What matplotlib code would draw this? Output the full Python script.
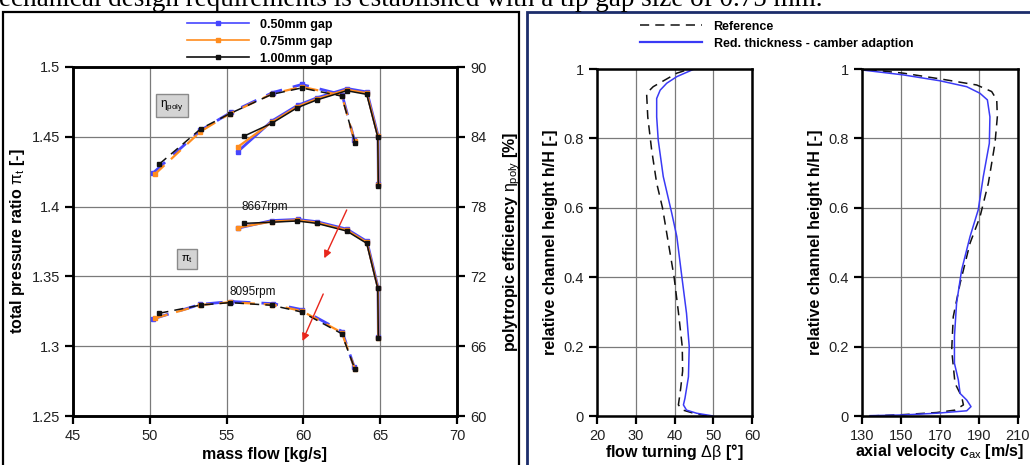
import matplotlib
matplotlib.use("Agg")
import matplotlib.pyplot as plt
from matplotlib.lines import Line2D
from matplotlib.patches import Rectangle
from matplotlib.ticker import FuncFormatter, FixedLocator

plt.rcParams['font.family'] = ['Liberation Sans', 'DejaVu Sans']
plt.rcParams['mathtext.fontset'] = 'custom'
plt.rcParams['mathtext.rm'] = 'Liberation Sans'
plt.rcParams['mathtext.it'] = 'Liberation Sans'

# ---------------- data: left panel (compressor map) ----------------
gap_labels = ["0.50mm gap", "0.75mm gap", "1.00mm gap"]
gap_colors = ["#4646ff", "#ff8c1e", "#111111"]

# 8095 rpm (dashed)
mf_8095_050 = [50.19, 53.30, 55.28, 58.00, 59.90, 62.52, 63.32]
pi_8095_050 = [1.3195, 1.3300, 1.3320, 1.3305, 1.3262, 1.3105, 1.2848]
eta_8095_050 = [80.86, 84.55, 86.10, 87.80, 88.50, 87.62, 83.70]
mf_8095_075 = [50.32, 53.30, 55.22, 57.98, 59.90, 62.50, 63.34]
pi_8095_075 = [1.3200, 1.3295, 1.3315, 1.3298, 1.3252, 1.3098, 1.2840]
eta_8095_075 = [80.77, 84.45, 86.00, 87.70, 88.30, 87.55, 83.60]
mf_8095_100 = [50.62, 53.33, 55.22, 57.95, 59.89, 62.49, 63.36]
pi_8095_100 = [1.3236, 1.3295, 1.3312, 1.3293, 1.3245, 1.3090, 1.2834]
eta_8095_100 = [81.66, 84.70, 86.00, 87.65, 88.20, 87.50, 83.50]

# 8667 rpm (solid)
mf_8667_050 = [55.72, 57.94, 59.62, 60.88, 62.84, 64.14, 64.86, 64.88]
pi_8667_050 = [1.3845, 1.3900, 1.3908, 1.3892, 1.3838, 1.3750, 1.3420, 1.3065]
eta_8667_050 = [82.72, 85.35, 86.70, 87.35, 88.15, 87.85, 84.10, 79.90]
mf_8667_075 = [55.75, 57.94, 59.61, 60.87, 62.83, 64.13, 64.85, 64.88]
pi_8667_075 = [1.3850, 1.3893, 1.3902, 1.3886, 1.3831, 1.3743, 1.3417, 1.3062]
eta_8667_075 = [83.15, 85.25, 86.60, 87.25, 88.05, 87.75, 84.05, 79.85]
mf_8667_100 = [56.15, 57.94, 59.60, 60.86, 62.82, 64.12, 64.84, 64.88]
pi_8667_100 = [1.3880, 1.3888, 1.3897, 1.3880, 1.3825, 1.3737, 1.3415, 1.3060]
eta_8667_100 = [84.07, 85.16, 86.50, 87.16, 87.96, 87.65, 84.00, 79.77]

speed_labels = ["8667rpm", "8095rpm"]
speed_label_pos = [(57.5, 1.3997), (56.7, 1.3388)]
arrow_starts = [(62.82, 1.3976), (61.29, 1.3374)]
arrow_ends = [(61.36, 1.3630), (59.94, 1.3037)]

massflow_ticks = [45, 50, 55, 60, 65, 70]
pi_ticks = [1.25, 1.3, 1.35, 1.4, 1.45, 1.5]
eta_ticks = [60, 66, 72, 78, 84, 90]

# ---------------- data: right panels (spanwise profiles) ----------------
h_turn_ref = [0.0, 0.006, 0.017, 0.032, 0.055, 0.08, 0.13, 0.20, 0.30, 0.40,
              0.50, 0.60, 0.671, 0.767, 0.862, 0.93, 0.949, 0.988, 0.997]
turn_ref = [48.5, 45.5, 42.2, 41.0, 41.3, 41.6, 42.1, 42.0, 41.0, 39.9,
            38.4, 36.9, 35.4, 34.1, 33.1, 32.8, 34.5, 40.6, 43.1]
h_turn_mod = [0.0, 0.008, 0.017, 0.032, 0.051, 0.113, 0.20, 0.296, 0.401,
              0.517, 0.584, 0.69, 0.795, 0.862, 0.915, 0.939, 0.959, 0.978, 1.0]
turn_mod = [50.0, 45.7, 43.1, 42.3, 42.7, 43.6, 43.8, 43.1, 41.9,
            40.6, 39.3, 37.1, 35.8, 35.4, 35.4, 36.3, 38.0, 40.6, 45.1]

h_cax_ref = [0.0, 0.004, 0.01, 0.017, 0.032, 0.056, 0.094, 0.19, 0.286, 0.382,
             0.498, 0.574, 0.671, 0.786, 0.862, 0.911, 0.935, 0.954, 0.97, 0.988, 1.0]
cax_ref = [134.1, 151.2, 168.3, 177.7, 182.0, 181.1, 177.7, 176.0, 176.8, 180.3,
           185.4, 190.5, 194.8, 198.2, 199.4, 199.1, 196.5, 188.8, 171.7, 151.2, 130.3]
h_cax_mod = [0.001, 0.003, 0.008, 0.015, 0.027, 0.046, 0.065, 0.104, 0.152, 0.229,
             0.325, 0.421, 0.517, 0.594, 0.69, 0.786, 0.862, 0.911, 0.93, 0.949,
             0.966, 0.983, 0.997]
cax_mod = [134.1, 151.2, 168.3, 183.7, 185.9, 183.7, 180.3, 179.4, 177.4, 177.4,
           178.5, 181.1, 185.4, 189.6, 192.2, 195.3, 195.6, 194.3, 190.5, 183.7,
           170.0, 151.2, 130.3]

turn_ticks = [20, 30, 40, 50, 60]
cax_ticks = [130, 150, 170, 190, 210]
h_ticks = [0, 0.2, 0.4, 0.6, 0.8, 1]

profile_labels = ["Reference", "Red. thickness - camber adaption"]
profile_blue = "#3a3af5"

# ---------------- figure ----------------
W, H = 1030, 465
fig = plt.figure(figsize=(W / 100, H / 100), dpi=100)

def fx(px):
    return px / W

def fy(py):
    return 1 - py / H

# panel frames
fig.add_artist(Rectangle((fx(3), fy(475)), fx(516), fy(12) - fy(475), transform=fig.transFigure,
                         fill=False, lw=1.6, ec='black'))
fig.add_artist(Rectangle((fx(527), fy(475)), fx(520), fy(12) - fy(475), transform=fig.transFigure,
                         fill=False, lw=2.0, ec='#1c2d6b'))
# cropped caption text at top (cut off in the source as well)
fig.text(fx(-1), fy(6), "echanical design requirements is established with a tip gap size of 0.75 mm.",
         family='Liberation Serif', fontsize=19.5, va='baseline', ha='left', color='black')

fmt_g = FuncFormatter(lambda v, p: ('%g' % round(v, 4)))

# ---------- left axes ----------
ax = fig.add_axes([fx(73), fy(416), fx(457) - fx(73), fy(67) - fy(416)])
ax2 = ax.twinx()
ax.set_xlim(massflow_ticks[0], massflow_ticks[-1])
ax.set_ylim(pi_ticks[0], pi_ticks[-1])
ax2.set_ylim(eta_ticks[0], eta_ticks[-1])
ax.xaxis.set_major_locator(FixedLocator(massflow_ticks))
ax.yaxis.set_major_locator(FixedLocator(pi_ticks))
ax2.yaxis.set_major_locator(FixedLocator(eta_ticks))
ax.yaxis.set_major_formatter(fmt_g)
ax2.yaxis.set_major_formatter(fmt_g)
ax.grid(True, color='#7a7a7a', lw=0.9)
ax.set_axisbelow(True)
for a in (ax, ax2):
    for s in a.spines.values():
        s.set_linewidth(1.8)
    a.tick_params(direction='out', length=6, width=1.6, labelsize=10.5, colors='black',
                  labelcolor='#222222')

series = [
    (mf_8095_050, pi_8095_050, eta_8095_050, mf_8667_050, pi_8667_050, eta_8667_050),
    (mf_8095_075, pi_8095_075, eta_8095_075, mf_8667_075, pi_8667_075, eta_8667_075),
    (mf_8095_100, pi_8095_100, eta_8095_100, mf_8667_100, pi_8667_100, eta_8667_100),
]
lws = [2.0, 1.6, 1.1]
for (mfa, pia, etaa, mfb, pib, etab), col, lw in zip(series, gap_colors, lws):
    kw = dict(color=col, lw=lw, marker='s', ms=3.2, mec=col, mfc=col)
    ax.plot(mfa, pia, ls=(0, (6, 4)), **kw)
    ax.plot(mfb, pib, ls='-', **kw)
    ax2.plot(mfa, etaa, ls=(0, (6, 4)), **kw)
    ax2.plot(mfb, etab, ls='-', **kw)

for lab, pos in zip(speed_labels, speed_label_pos):
    ax.text(pos[0], pos[1], lab, ha='center', va='center', fontsize=8.5, color='#111111')
for s, e in zip(arrow_starts, arrow_ends):
    ax.annotate('', xy=e, xytext=s,
                arrowprops=dict(arrowstyle='-|>', color='#e8261c', lw=1.0, mutation_scale=11,
                                shrinkA=0, shrinkB=0))

box_kw = dict(boxstyle='square,pad=0.35', fc='#d4d4d4', ec='#8a8a8a', lw=1.0)
ax.text(51.43, 1.4724, r'$\eta_{\mathrm{poly}}$', ha='center', va='center', fontsize=8.5,
        bbox=box_kw, family='DejaVu Sans')
ax.text(52.42, 1.3625, r'$\pi_{\mathrm{t}}$', ha='center', va='center', fontsize=8,
        bbox=box_kw)

ax.set_xlabel('mass flow [kg/s]', fontsize=11.5, fontweight='bold', labelpad=3)
ax.set_ylabel(r'total pressure ratio $\pi_\mathrm{t}$ [-]', fontsize=11.5, fontweight='bold', labelpad=3)
ax2.set_ylabel(r'polytropic efficiency $\eta_\mathrm{poly}$ [%]', fontsize=11.5, fontweight='bold', labelpad=11)

handles = [Line2D([], [], color=c, lw=1.2, marker='s', ms=3.2) for c in gap_colors]
fig.legend(handles, gap_labels, loc='upper left', bbox_to_anchor=(fx(178), fy(10)),
           frameon=False, prop=dict(size=9, weight='bold'), handlelength=5.0,
           handletextpad=0.9, labelspacing=0.4, borderpad=0.2)

# ---------- right axes ----------
def profile_axes(x0, x1, xticks, ref_x, ref_h, mod_x, mod_h, xlabel):
    a = fig.add_axes([fx(x0), fy(416), fx(x1) - fx(x0), fy(69) - fy(416)])
    a.set_xlim(xticks[0], xticks[-1])
    a.set_ylim(h_ticks[0], h_ticks[-1])
    a.xaxis.set_major_locator(FixedLocator(xticks))
    a.yaxis.set_major_locator(FixedLocator(h_ticks))
    a.xaxis.set_major_formatter(fmt_g)
    a.yaxis.set_major_formatter(fmt_g)
    a.grid(True, color='#7a7a7a', lw=0.9)
    a.set_axisbelow(True)
    for s in a.spines.values():
        s.set_linewidth(1.8)
    a.tick_params(direction='out', length=6, width=1.6, labelsize=10.5, labelcolor='#222222')
    a.plot(ref_x, ref_h, color='#111111', lw=1.1, ls=(0, (6, 4)))
    a.plot(mod_x, mod_h, color=profile_blue, lw=1.1)
    a.set_xlabel(xlabel, fontsize=11.5, fontweight='bold', labelpad=-1)
    a.set_ylabel('relative channel height h/H [-]', fontsize=11.5, fontweight='bold', labelpad=4)
    return a

axa = profile_axes(597, 752, turn_ticks, turn_ref, h_turn_ref, turn_mod, h_turn_mod,
                   r'flow turning $\Delta\beta$ [°]')
axb = profile_axes(862, 1018, cax_ticks, cax_ref, h_cax_ref, cax_mod, h_cax_mod,
                   r'axial velocity c$_\mathrm{ax}$ [m/s]')

ph = [Line2D([], [], color='#111111', lw=1.1, ls=(0, (6, 4))), Line2D([], [], color=profile_blue, lw=1.6)]
fig.legend(ph, profile_labels, loc='upper left', bbox_to_anchor=(fx(631), fy(12)),
           frameon=False, prop=dict(size=9, weight='bold'), handlelength=5.0,
           handletextpad=0.9, labelspacing=0.4, borderpad=0.2)

fig.savefig('out.png', dpi=100)
